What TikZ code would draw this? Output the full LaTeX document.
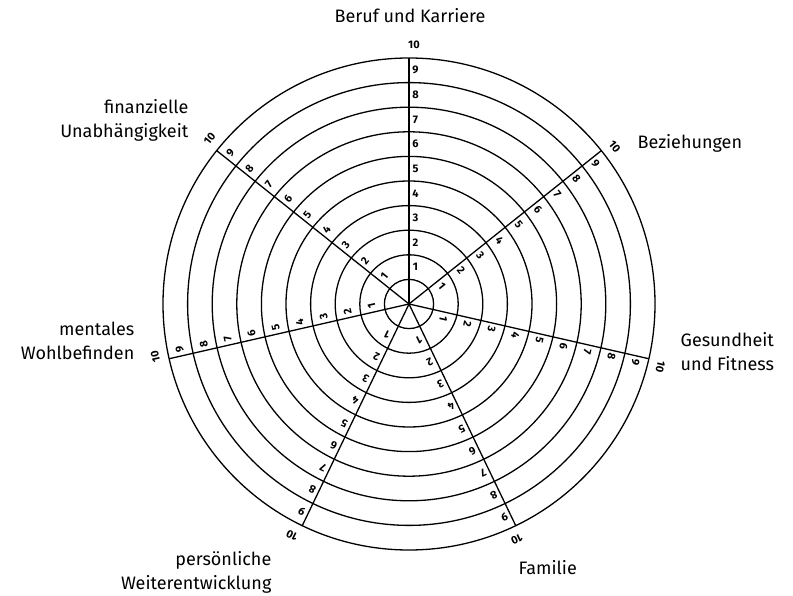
\documentclass[tikz,border=0pt]{standalone}
\usepackage{fontspec}
\setmainfont{Fira Sans}
\usetikzlibrary{calc}
\begin{document}
\begin{tikzpicture}[x=1pt,y=1pt,line width=1.3pt,
  num/.style={font=\fontsize{11}{12}\selectfont\bfseries, inner sep=0pt},
  cat/.style={font=\fontsize{18}{24}\selectfont, inner sep=0pt, align=#1},
  cat/.default=center]
\useasboundingbox (0,0) rectangle (793,595);
\coordinate (c) at (409,291);
\foreach \k in {1,...,10} \draw (c) circle[radius=24.6*\k];
\foreach \i in {0,...,6}{
  \pgfmathsetmacro\a{90-\i*360/7}
  \draw (c) -- ($(c)+(\a:246)$);
  \foreach \k in {1,...,9}{
    \node[num, rotate=\a-90] (n\i-\k) at ($(c)+(\a:{(\k+0.5)*24.6})+(\a-90:6.5)$) {\k};
  }
  \node[num, rotate=\a-90] (n\i-10) at ($(c)+(\a:259)+(\a-90:5)$) {10};
}
\node[cat] (t1) at (410,579) {Beruf und Karriere};
\node[cat=left, anchor=west] (t2) at (637,452) {Beziehungen};
\node[cat=left, anchor=north west] (t3) at (680,263) {Gesundheit\\und Fitness};
\node[cat=left, anchor=west] (t4) at (518,27) {Familie};
\node[cat=right, anchor=north east] (t5) at (272,44) {persönliche\\Weiterentwicklung};
\node[cat=right, anchor=north east] (t6) at (135,274) {mentales\\Wohlbefinden};
\node[cat=right, anchor=north east] (t7) at (189,496) {finanzielle\\Unabhängigkeit};
\end{tikzpicture}
\end{document}
